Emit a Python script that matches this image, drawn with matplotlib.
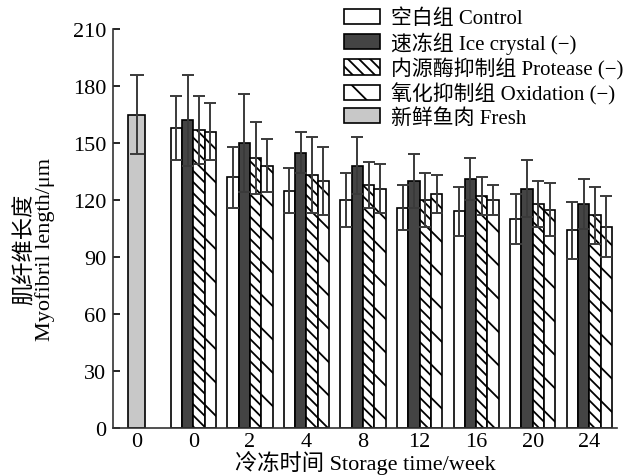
import numpy as np
import matplotlib
matplotlib.use("Agg")
import matplotlib.pyplot as plt
from matplotlib.patches import Patch

# 字体: 西文用衬线体, 中文回退到 CJK
plt.rcParams['font.family'] = ['Liberation Serif', 'Noto Sans CJK SC']
plt.rcParams['hatch.linewidth'] = 1.3
plt.rcParams['axes.unicode_minus'] = False

# 数据
semanas = ['0', '2', '4', '8', '12', '16', '20', '24']
fresco = 165
fresco_err = 21

controle = [158, 132, 125, 120, 116, 114, 110, 104]
controle_err = [17, 16, 12, 14, 12, 13, 13, 15]
gelo = [162, 150, 145, 138, 130, 131, 126, 118]
gelo_err = [24, 26, 11, 15, 14, 11, 15, 13]
protease = [157, 142, 133, 128, 120, 122, 118, 112]
protease_err = [18, 19, 20, 12, 14, 10, 12, 15]
oxidacao = [156, 138, 130, 126, 123, 120, 115, 106]
oxidacao_err = [15, 14, 18, 13, 10, 8, 14, 16]

nomes = ['空白组 Control', '速冻组 Ice crystal (−)', '内源酶抑制组 Protease (−)',
         '氧化抑制组 Oxidation (−)', '新鲜鱼肉 Fresh']

fig = plt.figure(figsize=(6.4, 4.77), dpi=100)
ax = fig.add_axes([0.1766, 0.1006, 0.7874, 0.8364])

largura = 0.2
pos = np.arange(1, len(semanas) + 1)
erro_kw = dict(ecolor='#3a3a3a', elinewidth=1.4, capsize=4, capthick=1.4)

series = [
    (controle, controle_err, dict(color='white', hatch=None)),
    (gelo, gelo_err, dict(color='#444444', hatch=None)),
    (protease, protease_err, dict(color='white', hatch='\\\\\\')),
    (oxidacao, oxidacao_err, dict(color='white', hatch='\\')),
]

for k, (vals, errs, estilo) in enumerate(series):
    x = pos + (k - 1.5) * largura
    ax.bar(x, vals, largura, color=estilo['color'], edgecolor='black',
           linewidth=1.2, hatch=estilo['hatch'], zorder=2)
    ax.errorbar(x, vals, yerr=errs, fmt='none', zorder=3, **erro_kw)

ax.bar([0], [fresco], 0.3, color='#c8c8c8', edgecolor='black', linewidth=1.2, zorder=2)
ax.errorbar([0], [fresco], yerr=[fresco_err], fmt='none', zorder=3,
            ecolor='#3a3a3a', elinewidth=1.4, capsize=5, capthick=1.4)

# Eixos
ax.set_xlim(-0.42, 8.49)
ax.set_ylim(0, 210)
ax.set_yticks(np.arange(0, 211, 30))
ax.set_xticks(np.arange(0, len(semanas) + 1))
ax.set_xticklabels(['0'] + semanas)
ax.tick_params(direction='in', length=5, width=1.2, labelsize=16, pad=5)
ax.tick_params(axis='x', pad=3)
ax.spines['top'].set_visible(False)
ax.spines['right'].set_visible(False)
for s in ['left', 'bottom']:
    ax.spines[s].set_linewidth(1.2)
    ax.spines[s].set_color('#333333')

ax.set_xlabel('冷冻时间 Storage time/week', fontsize=16, labelpad=-1)
ax.set_ylabel('肌纤维长度\nMyofibril length/μm', fontsize=16, linespacing=0.95)
ax.yaxis.set_label_coords(-0.115, 0.45)

handles = [
    Patch(facecolor='white', edgecolor='black', linewidth=1.2),
    Patch(facecolor='#444444', edgecolor='black', linewidth=1.2),
    Patch(facecolor='white', edgecolor='black', linewidth=1.2, hatch='\\\\\\'),
    Patch(facecolor='white', edgecolor='black', linewidth=1.2, hatch='\\'),
    Patch(facecolor='#c8c8c8', edgecolor='black', linewidth=1.2),
]
ax.legend(handles, nomes, loc='upper left', bbox_to_anchor=(0.43, 1.088),
          frameon=False, fontsize=15, handlelength=1.7, handleheight=0.75,
          labelspacing=0.15, handletextpad=0.55, borderpad=0.2)

fig.savefig('out.png', dpi=100)
